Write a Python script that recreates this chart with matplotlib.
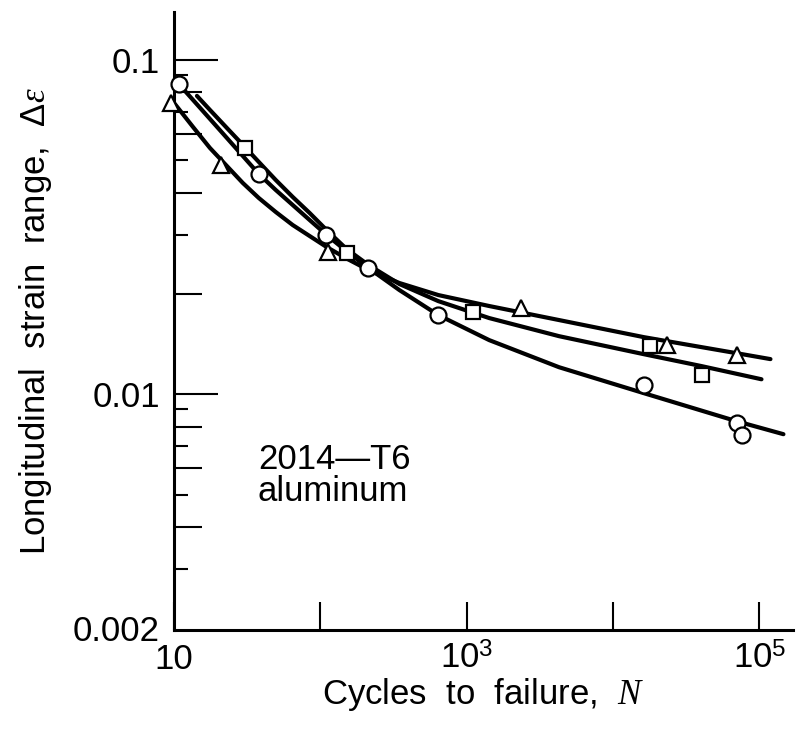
import numpy as np
import matplotlib
matplotlib.use("Agg")
import matplotlib.pyplot as plt
from matplotlib.ticker import FixedLocator, FixedFormatter, NullLocator, NullFormatter

plt.rcParams['font.family'] = ['Liberation Sans', 'DejaVu Sans']
plt.rcParams['mathtext.fontset'] = 'custom'
plt.rcParams['mathtext.rm'] = 'Liberation Sans'
plt.rcParams['mathtext.it'] = 'Liberation Serif:italic'

# test points (cycles, strain range)
circ_n = [10.8, 37.9, 110, 213, 640, 16250, 70000, 75700]
circ_e = [0.0848, 0.0456, 0.0299, 0.0238, 0.01726, 0.01064, 0.00819, 0.00753]
sq_n = [30.5, 151, 1110, 17860, 40360]
sq_e = [0.0546, 0.0264, 0.01762, 0.01393, 0.0114]
tri_n = [9.6, 20.9, 112, 2355, 23300, 70000]
tri_e = [0.0743, 0.0485, 0.0266, 0.0181, 0.01403, 0.01309]

# fitted curves
circ_fit_n = [10.32, 13.48, 17.60, 22.97, 29.53, 37.97, 49.58, 64.74, 84.53, 110.4,
              153.5, 213.4, 347.2, 640.3, 1426, 4278, 16240, 69910, 146200]
circ_fit_e = [0.08653, 0.07590, 0.06658, 0.05840, 0.05159, 0.04557, 0.04081, 0.03680,
              0.03318, 0.02993, 0.02662, 0.02384, 0.02048, 0.01724, 0.01451, 0.01204,
              0.01007, 0.00830, 0.00759]
sq_fit_n = [14.35, 17.60, 22.97, 30.48, 37.97, 49.58, 64.74, 84.53, 110.4, 151.1,
            213.4, 347.2, 640.3, 1426, 4278, 16240, 40365, 103500]
sq_fit_e = [0.07802, 0.07084, 0.06257, 0.05489, 0.04950, 0.04372, 0.03890, 0.03483,
            0.03097, 0.02718, 0.02434, 0.02135, 0.01898, 0.01689, 0.01491, 0.01317,
            0.01213, 0.01108]
tri_fit_n = [10.0, 13.48, 17.60, 22.97, 29.53, 37.97, 49.58, 64.74, 84.53, 110.4,
             153.5, 213.4, 347.2, 640.3, 1426, 4278, 16240, 69910, 119200]
tri_fit_e = [0.07435, 0.06301, 0.05451, 0.04815, 0.04283, 0.03862, 0.03507, 0.03206,
             0.02972, 0.02755, 0.02536, 0.02351, 0.02150, 0.01979, 0.01835, 0.01666,
             0.01481, 0.01326, 0.01273]

y_major = [0.002, 0.01, 0.1]
y_major_labels = ['0.002', '0.01', '0.1']
y_short = [0.09, 0.07, 0.05, 0.03, 0.009, 0.007, 0.005, 0.003]
y_long = [0.08, 0.06, 0.04, 0.02, 0.008, 0.006, 0.004]
x_ticks = [10, 100, 1e3, 1e4, 1e5]
x_labels = ['10', '', '$10^3$', '', '$10^5$']

fig = plt.figure(figsize=(7.97, 7.38), dpi=100)
ax = fig.add_axes([0.2183, 0.1463, 0.7767, 0.8374])
ax.set_xscale('log')
ax.set_yscale('log')
ax.set_xlim(10, 1.7e5)
ax.set_ylim(0.00197, 0.139)

lw = 3.0
ax.plot(circ_fit_n, circ_fit_e, color='black', lw=lw, solid_capstyle='round', zorder=2)
ax.plot(sq_fit_n, sq_fit_e, color='black', lw=lw, solid_capstyle='round', zorder=2)
ax.plot(tri_fit_n, tri_fit_e, color='black', lw=lw, solid_capstyle='round', zorder=2)

mk = dict(linestyle='none', markerfacecolor='white', markeredgecolor='black',
          markeredgewidth=1.6, zorder=3, clip_on=False)
ax.plot(circ_n, circ_e, marker='o', markersize=11.5, **mk)
ax.plot(sq_n, sq_e, marker='s', markersize=10.5, **mk)
ax.plot(tri_n, tri_e, marker='^', markersize=12, **mk)

for s in ['top', 'right']:
    ax.spines[s].set_visible(False)
for s in ['left', 'bottom']:
    ax.spines[s].set_linewidth(2.2)

ax.yaxis.set_major_locator(FixedLocator(y_major))
ax.yaxis.set_major_formatter(FixedFormatter(y_major_labels))
ax.yaxis.set_minor_locator(FixedLocator(y_short))
ax.yaxis.set_minor_formatter(NullFormatter())
ax.tick_params(axis='y', which='major', direction='in', length=32, width=1.5,
               labelsize=25, pad=10)
ax.tick_params(axis='y', which='minor', direction='in', length=10, width=1.5)
# the 0.002 label sits on the bottom spine, no tick line there
ax.yaxis.get_major_ticks()[0].tick1line.set_visible(False)

sec = ax.secondary_yaxis('left')
sec.yaxis.set_major_locator(FixedLocator(y_long))
sec.yaxis.set_major_formatter(NullFormatter())
sec.yaxis.set_minor_locator(NullLocator())
sec.tick_params(axis='y', which='major', direction='in', length=20, width=1.5)
sec.spines['left'].set_visible(False)

ax.xaxis.set_major_locator(FixedLocator(x_ticks))
ax.xaxis.set_major_formatter(FixedFormatter(x_labels))
ax.xaxis.set_minor_locator(NullLocator())
ax.tick_params(axis='x', which='major', direction='in', length=20, width=1.5,
               labelsize=25, pad=9)

ax.set_xlabel('Cycles  to  failure,  $N$', fontsize=25, labelpad=0)
ax.set_ylabel(r'Longitudinal  strain  range,  $\Delta\epsilon$', fontsize=25, labelpad=14)

ax.text(0.1357, 0.3026, '2014\u2014T6\naluminum', transform=ax.transAxes,
        fontsize=25, va='top', ha='left', linespacing=0.95)

fig.savefig('out.png', dpi=100)
